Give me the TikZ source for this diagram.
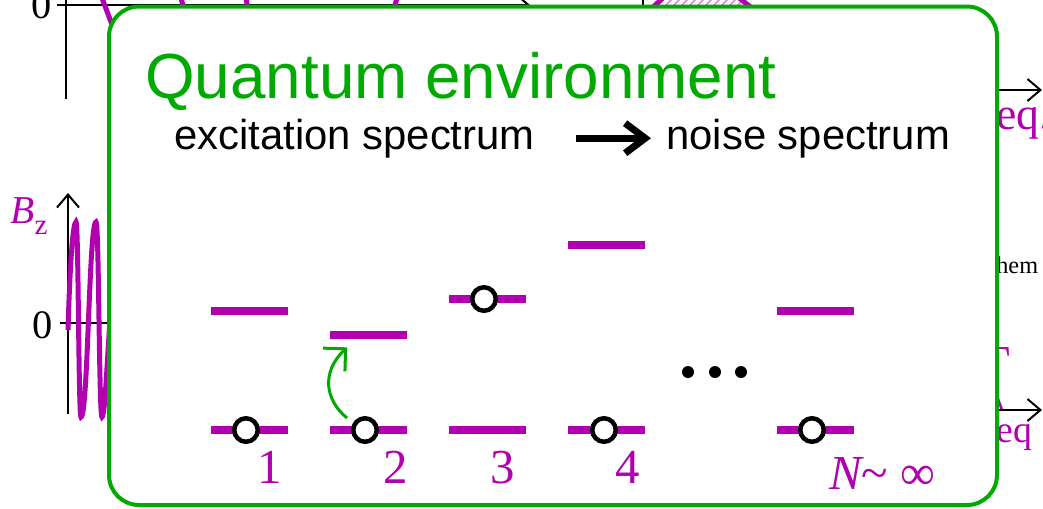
\documentclass[tikz,border=0pt]{standalone}
\usepackage{fontspec}
\setmainfont{Liberation Serif}
\setsansfont{Liberation Sans}
\usetikzlibrary{arrows.meta, calc}

\definecolor{envgreen}{RGB}{0,170,0}
\definecolor{levelmag}{RGB}{176,0,176}
\definecolor{hatchmag}{RGB}{214,110,214}

\begin{document}
\begin{tikzpicture}[
        x=0.2mm, y=-0.2mm,
        every node/.style={inner sep=0pt},
        level/.style={fill=levelmag, minimum width=15.4mm, minimum height=1.6mm},
        occ/.style={circle, draw=black, fill=white, line width=0.9mm, minimum size=4.7mm},
        axis/.style={line width=0.4mm, -{Straight Barb[length=2.6mm, width=4.4mm]}},
        lbl/.style={text=levelmag, font=\fontsize{27.8}{30}\selectfont},
        body/.style={font=\sffamily\fontsize{23.8}{28}\selectfont},
        >=Stealth
    ]

    \useasboundingbox (0,0) rectangle (1043,508);

    % Upper plot (hidden behind the box)
    \node[anchor=base east, font=\fontsize{23}{25}\selectfont] (zeroA) at (52,18) {0};
    \draw[line width=0.4mm] (66,-2) -- (66,99);
    \draw[axis] (57,5) -- (530,5);
    \draw[levelmag, line width=1mm] (102,-2) -- (114,30);
    \draw[levelmag, line width=1mm] (181,-2) -- (184,9);
    \draw[levelmag, line width=1mm] (246,-2) -- (248,9);
    \draw[levelmag, line width=1mm] (397,-2) -- (394,9);

    % Hatched peak
    \begin{scope}
        \clip (658,-3) -- (742,-3) -- (751,9) -- (652,9) -- cycle;
        \foreach \x in {630,638,...,770}
            \draw[hatchmag, line width=0.25mm] (\x,9) -- (\x+12,-3);
    \end{scope}
    \draw[levelmag, line width=1mm] (651,9) -- (664,-3);
    \draw[levelmag, line width=1mm] (738,-3) -- (753,9);
    \draw[line width=0.4mm] (643,-2) -- (643,8);

    % Right-hand plots (hidden)
    \draw[axis] (990,90) -- (1042,90);
    \node[anchor=base west, text=levelmag, font=\fontsize{26}{28}\selectfont] (eqA) at (996,129) {eq.};
    \node[anchor=base west, font=\fontsize{13.8}{15}\selectfont] (hem) at (996,273) {hem};
    \node[anchor=base east, text=levelmag, font=\fontsize{26}{28}\selectfont] (gam) at (1011,377) {Γ};
    \draw[levelmag, line width=0.5mm] (997,396) -- (1002,410);
    \draw[axis] (990,410) -- (1042,410);
    \node[anchor=base west, text=levelmag, font=\fontsize{21.5}{24}\selectfont] (eqB) at (996,442) {eq};

    % Lower plot: field B_z
    \draw[axis] (68,414) -- (68,193);
    \draw[line width=0.4mm] (60,323) -- (115,323);
    \node[anchor=base east, font=\fontsize{23}{25}\selectfont] (zeroB) at (53,338) {0};
    \node[anchor=base west, text=levelmag, font=\fontsize{22.5}{24}\selectfont] (bz) at (10,223)
        {\itshape B\raisebox{-6.8pt}{\upshape\fontsize{16.5}{18}\selectfont z}};
    \draw[levelmag, line width=1mm] (68,330) .. controls (70,262) and (73,222) .. (76,222)
        .. controls (78.5,222) and (78.5,417) .. (81,417)
        .. controls (88,417) and (89,222) .. (96,222)
        .. controls (99,222) and (99,417) .. (102,417)
        .. controls (105,417) and (107,360) .. (112,290);

    % Environment box
    \draw[envgreen, line width=0.8mm, fill=white, rounded corners=6mm] (109,6.5) rectangle (997,505);

    % Titles
    \node[anchor=base west, text=envgreen, font=\sffamily\fontsize{36.3}{40}\selectfont] (title) at (145,98) {Quantum environment};
    \node[anchor=base west, body] (exc) at (174,149) {excitation spectrum};
    \node[anchor=base west, body] (noise) at (666,149) {noise spectrum};
    \draw[line width=4pt, -{Straight Barb[length=4mm, width=6mm]}, shorten <=8.2mm, shorten >=3mm] (exc.east) -- (noise.west);

    % Energy levels
    \foreach \n/\x/\y in {1/249/311, 2/368/335, 3/487.5/299, 4/606.5/245, N/815.5/311} {
        \node[level] (g\n) at (\x,430) {};
        \node[level] (e\n) at (\x,\y) {};
    }

    % Occupied states
    \foreach \n/\x/\y in {1/246/430, 2/365/430, 3/484/299, 4/604/430, N/812/430}
        \node[occ] (c\n) at (\x,\y) {};

    % Excitation
    \draw[envgreen, line width=0.6mm, -{Straight Barb[length=3.2mm, width=6.4mm]}]
        ($(c2)+(-18,-12)$) .. controls (325,400) and (321,372) .. ($(e2.south west)+(18,8)$);

    % Labels
    \node[lbl, anchor=base] (n1) at (270,483) {1};
    \node[lbl, anchor=base] (n2) at (396,483) {2};
    \node[lbl, anchor=base] (n3) at (503,483) {3};
    \node[lbl, anchor=base] (n4) at (628,483) {4};
    \node[lbl, anchor=base west] (nN) at (829,489) {\itshape N\upshape\textasciitilde{} ∞};

    % Dots
    \foreach \x in {688,715,741}
        \fill (\x,372) circle (6);

\end{tikzpicture}
\end{document}
